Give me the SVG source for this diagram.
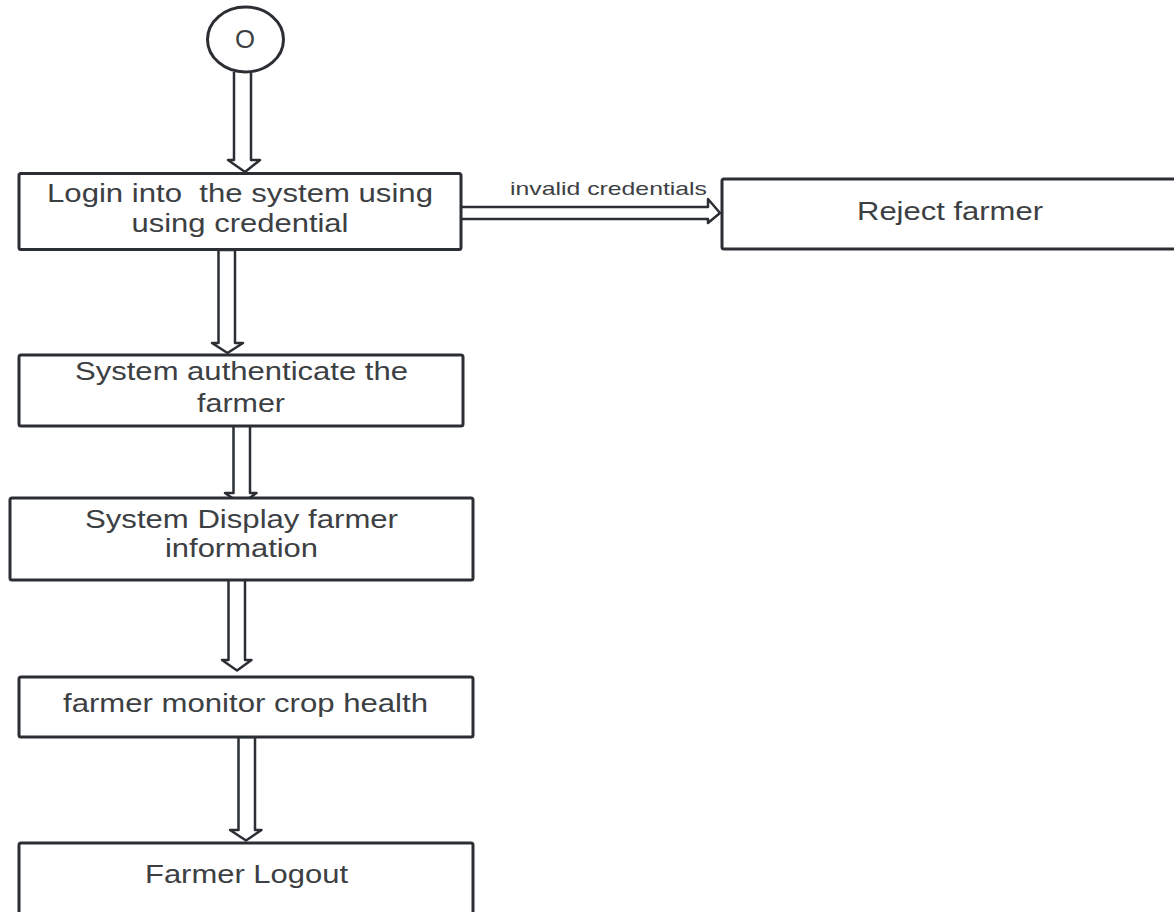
<svg xmlns="http://www.w3.org/2000/svg" width="1174" height="912" viewBox="0 0 1174 912">
<style>
.box{fill:#fff;stroke:#2b2f33;stroke-width:3;stroke-linejoin:round}
.arr{fill:#fff;stroke:#2b2f33;stroke-width:2.5;stroke-linejoin:round}
.t{font-family:"Liberation Sans",Arial,sans-serif;font-size:25px;fill:#3c4043;text-anchor:middle;white-space:pre}
.lbl{font-family:"Liberation Sans",Arial,sans-serif;font-size:19px;fill:#3c4043;text-anchor:middle}
</style>
<rect width="1174" height="912" fill="#fff"/>
<g id="connectors">
<path class="arr" d="M234,72 V160 H228 L245,172 L260,160 H251 V72"/>
<path class="arr" d="M218.5,250 V343 H212 L227.5,353 L243,343 H235 V250 Z"/>
<path class="arr" d="M233.5,422 V493 H225 L241,504 L256.5,493 H250 V422 Z"/>
<path class="arr" d="M228.5,572 V660 H222 L237,670.5 L251.5,660 H245 V572 Z"/>
<path class="arr" d="M238.5,737 V830 H230 L246,840.5 L261.5,830 H255 V737 Z"/>
<path class="arr" d="M459,207 H708 V199 L720,213 L708,223 V219 H459 Z"/>
<text class="lbl" x="608.5" y="195" textLength="197" lengthAdjust="spacingAndGlyphs">invalid credentials</text>
</g>
<g id="start">
<ellipse cx="245.5" cy="39.5" rx="38" ry="32.5" fill="#fff" stroke="#2b2f33" stroke-width="3"/>
<text class="t" x="245" y="48" font-size="22" textLength="20" lengthAdjust="spacingAndGlyphs">O</text>
</g>
<g id="login">
<rect class="box" x="19" y="173.5" width="442" height="76" rx="2"/>
<text class="t" x="240" y="202" xml:space="preserve" textLength="386" lengthAdjust="spacingAndGlyphs">Login into  the system using</text>
<text class="t" x="240" y="232" textLength="217" lengthAdjust="spacingAndGlyphs">using credential</text>
</g>
<g id="reject">
<rect class="box" x="722" y="179" width="460" height="70" rx="2"/>
<text class="t" x="950" y="220" textLength="186" lengthAdjust="spacingAndGlyphs">Reject farmer</text>
</g>
<g id="authenticate">
<rect class="box" x="19" y="355" width="444" height="71" rx="2"/>
<text class="t" x="241.5" y="380" textLength="333" lengthAdjust="spacingAndGlyphs">System authenticate the</text>
<text class="t" x="241" y="412" textLength="88" lengthAdjust="spacingAndGlyphs">farmer</text>
</g>
<g id="display">
<rect class="box" x="10" y="498" width="463" height="82" rx="2"/>
<text class="t" x="241.5" y="528" textLength="313" lengthAdjust="spacingAndGlyphs">System Display farmer</text>
<text class="t" x="241.5" y="557" textLength="153" lengthAdjust="spacingAndGlyphs">information</text>
</g>
<g id="monitor">
<rect class="box" x="19" y="677" width="454" height="60" rx="2"/>
<text class="t" x="245.5" y="712" textLength="365" lengthAdjust="spacingAndGlyphs">farmer monitor crop health</text>
</g>
<g id="logout">
<rect class="box" x="19" y="843" width="454" height="80" rx="2"/>
<text class="t" x="246.5" y="883" textLength="203" lengthAdjust="spacingAndGlyphs">Farmer Logout</text>
</g>
</svg>
